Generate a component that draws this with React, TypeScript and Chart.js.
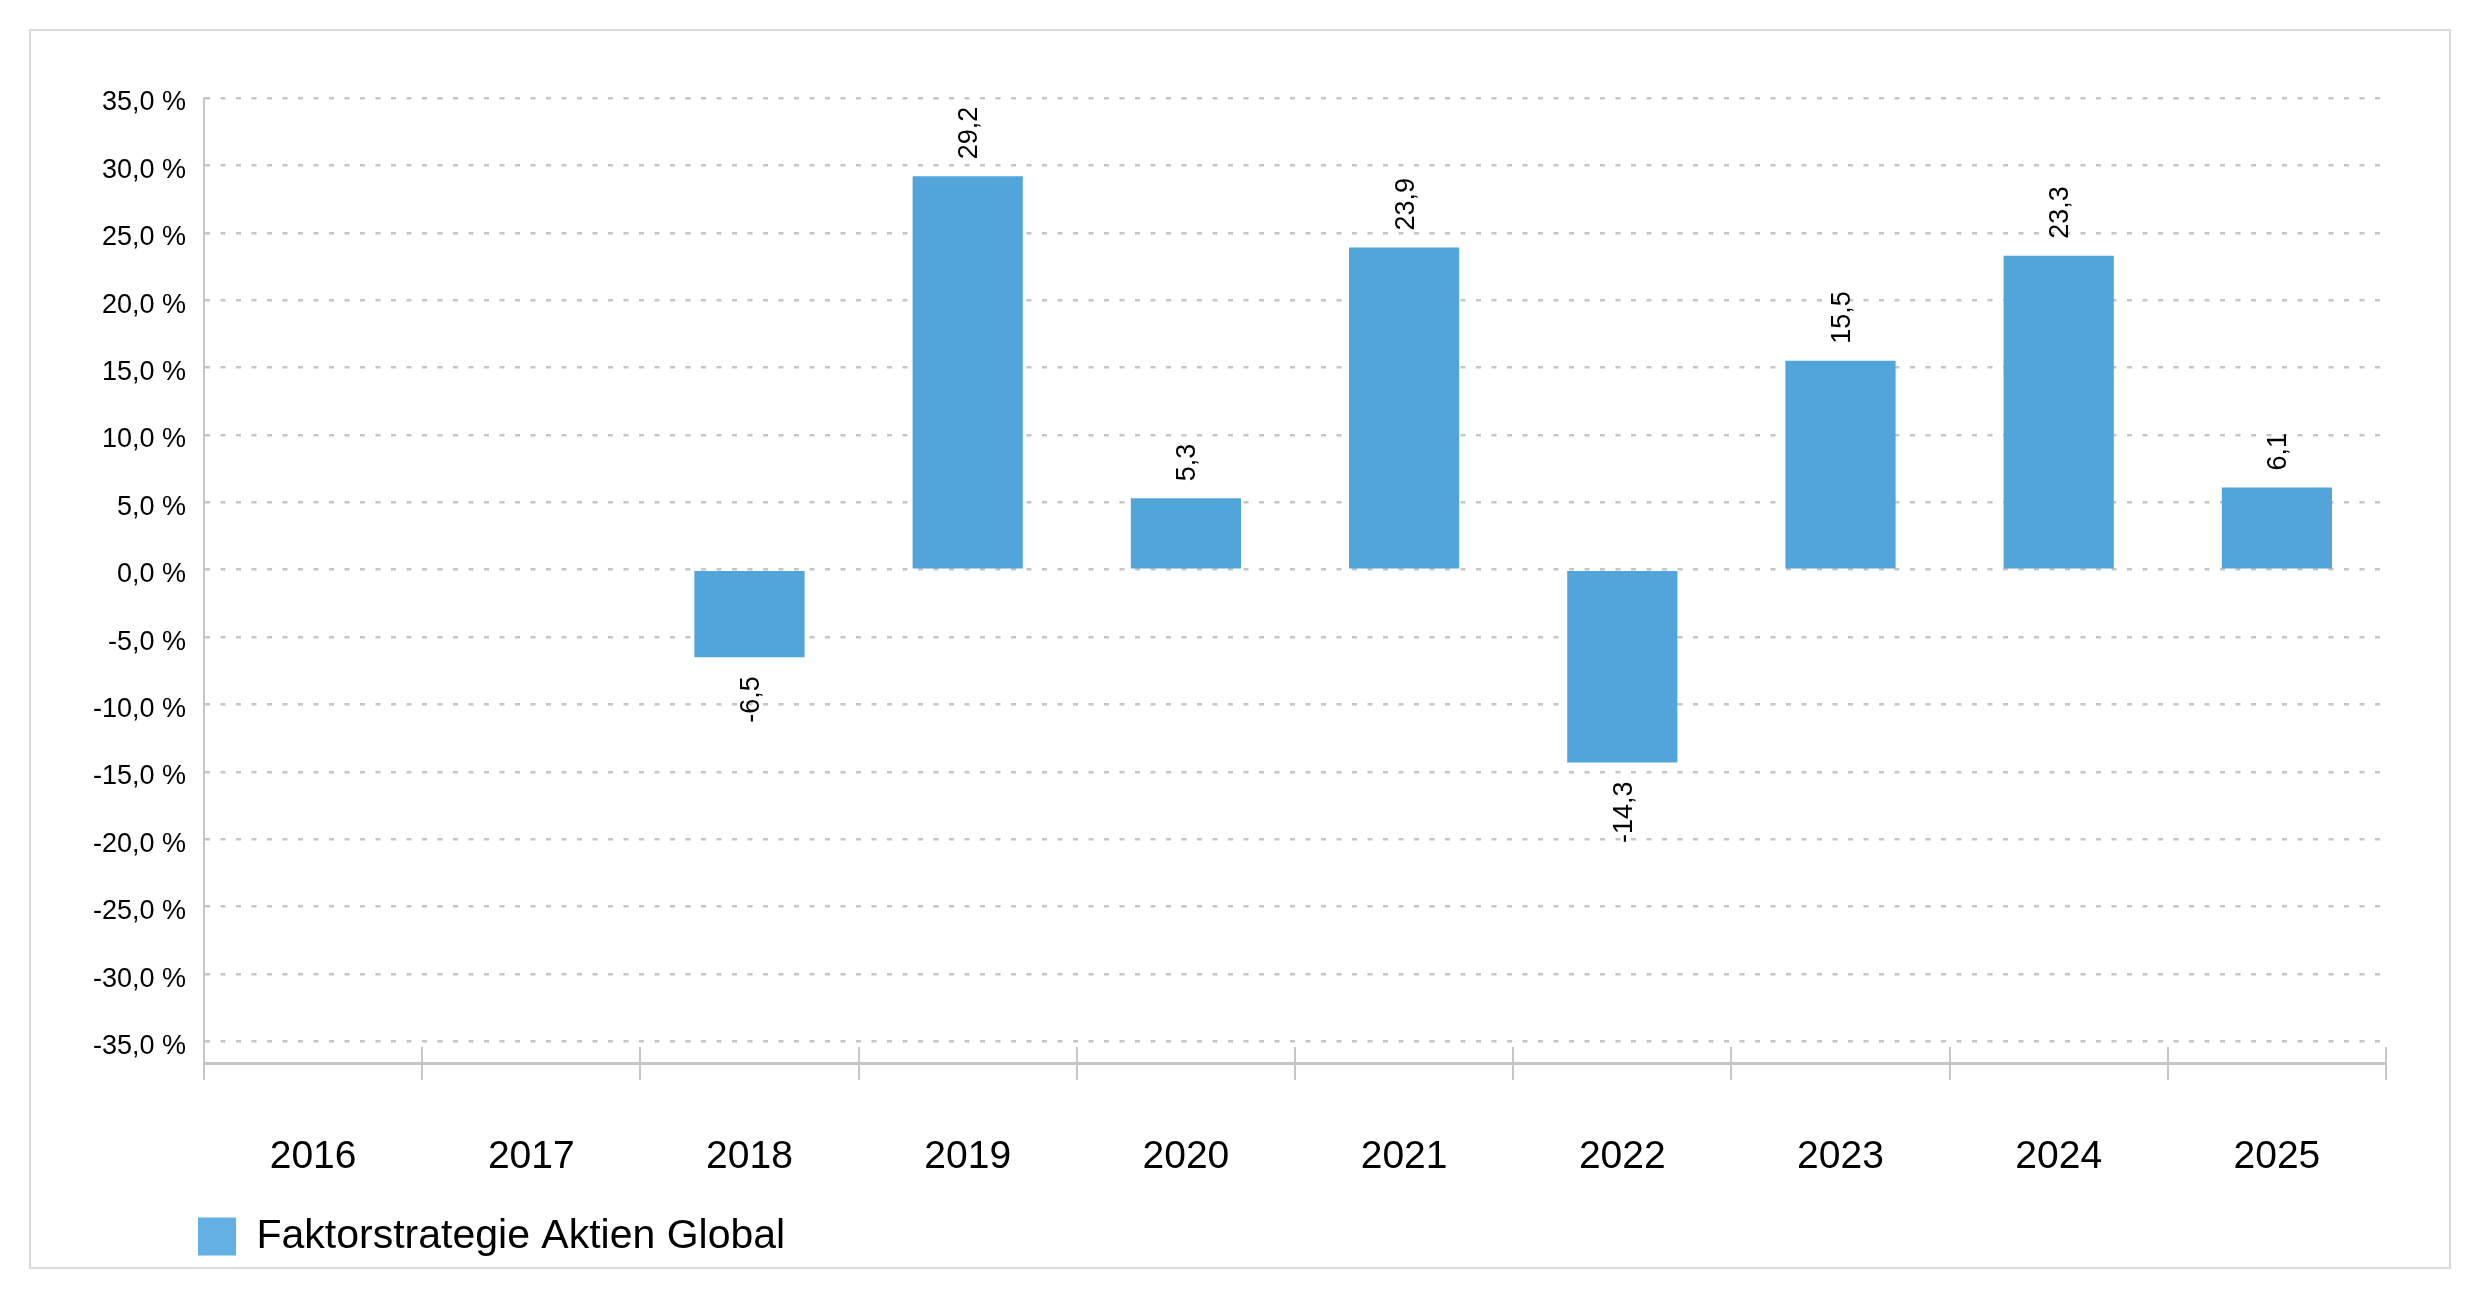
import React, { useEffect, useRef } from "react";
import { Chart, registerables } from "chart.js";

Chart.register(...registerables);

const categories: string[] = ["2016", "2017", "2018", "2019", "2020", "2021", "2022", "2023", "2024", "2025"];
const values: (number | null)[] = [null, null, -6.5, 29.2, 5.3, 23.9, -14.3, 15.5, 23.3, 6.1];
const seriesName = "Faktorstrategie Aktien Global";
const yTicks: number[] = [-35, -30, -25, -20, -15, -10, -5, 0, 5, 10, 15, 20, 25, 30, 35];

const BAR_COLOR = "#52A5DA";
const LEGEND_COLOR = "#63B0E4";
const GRID_COLOR = "#C6C6C6";
const FONT = "'Liberation Sans', Arial, Helvetica, sans-serif";

const fmt = (v: number, d: number) => v.toFixed(d).replace(".", ",");

const valueLabels = {
  id: "valueLabels",
  afterDatasetsDraw(chart: any) {
    const ctx = chart.ctx;
    const meta = chart.getDatasetMeta(0);
    ctx.save();
    ctx.font = `27px ${FONT}`;
    ctx.fillStyle = "#000";
    ctx.textBaseline = "middle";
    meta.data.forEach((bar: any, i: number) => {
      const v = values[i];
      if (v === null || v === undefined) return;
      ctx.save();
      if (v >= 0) {
        ctx.translate(bar.x + 2, bar.y - 17);
        ctx.rotate(-Math.PI / 2);
        ctx.textAlign = "left";
      } else {
        ctx.translate(bar.x + 2, bar.y + 19);
        ctx.rotate(-Math.PI / 2);
        ctx.textAlign = "right";
      }
      ctx.fillText(fmt(v, 1), 0, 0);
      ctx.restore();
    });
    ctx.restore();
  },
};

const upperTicks = {
  id: "upperTicks",
  afterDraw(chart: any) {
    const ctx = chart.ctx;
    const x = chart.scales.x;
    const bottom = chart.chartArea.bottom;
    ctx.save();
    ctx.strokeStyle = GRID_COLOR;
    ctx.lineWidth = 2;
    for (let i = 0; i <= categories.length; i++) {
      const px = Math.round(x.getPixelForValue(i - 0.5));
      ctx.beginPath();
      ctx.moveTo(px, bottom - 16);
      ctx.lineTo(px, bottom);
      ctx.stroke();
    }
    ctx.restore();
  },
};

const legendShift = {
  id: "legendShift",
  afterLayout(chart: any) {
    const lg = chart.legend;
    if (lg) {
      lg.left -= 6;
      lg.right -= 6;
    }
  },
};

export default function App() {
  const ref = useRef<HTMLCanvasElement | null>(null);

  useEffect(() => {
    if (!ref.current) return;
    document.body.style.overflow = "hidden";
    Chart.defaults.font.family = FONT;
    const chart = new Chart(ref.current, {
      type: "bar",
      data: {
        labels: categories,
        datasets: [
          {
            label: seriesName,
            data: values as any,
            backgroundColor: BAR_COLOR,
            borderWidth: 0,
            categoryPercentage: 1,
            barPercentage: 0.505,
          },
        ],
      },
      options: {
        animation: false,
        responsive: false,
        devicePixelRatio: 1,
        layout: { padding: { left: 30, right: 94, top: 98, bottom: 32 } },
        plugins: {
          tooltip: { enabled: false },
          legend: {
            position: "bottom",
            align: "start",
            fullSize: false,
            labels: {
              boxWidth: 38,
              boxHeight: 38,
              padding: 0,
              color: "#000",
              font: { size: 41, family: FONT },
              generateLabels: () => [
                {
                  text: seriesName,
                  fillStyle: LEGEND_COLOR,
                  strokeStyle: LEGEND_COLOR,
                  lineWidth: 0,
                  hidden: false,
                  datasetIndex: 0,
                } as any,
              ],
            },
          },
        },
        scales: {
          x: {
            offset: true,
            grid: {
              display: true,
              offset: true,
              drawOnChartArea: false,
              drawTicks: true,
              tickLength: 17,
              color: GRID_COLOR,
              lineWidth: 2,
            },
            border: { display: true, color: GRID_COLOR, width: 3 },
            ticks: {
              color: "#000",
              font: { size: 39, family: FONT },
              padding: 54,
              maxRotation: 0,
              autoSkip: false,
            },
            afterFit: (scale: any) => {
              scale.height = 153;
            },
          },
          y: {
            min: -36.6,
            max: 35,
            afterBuildTicks: (scale: any) => {
              scale.ticks = yTicks.map((v) => ({ value: v }));
            },
            afterFit: (scale: any) => {
              scale.width = 174;
            },
            grid: {
              color: GRID_COLOR,
              lineWidth: 2.5,
              drawTicks: false,
            },
            border: { display: true, color: GRID_COLOR, width: 2, dash: [5, 10.5] },
            ticks: {
              color: "#000",
              font: { size: 27, family: FONT },
              padding: 18,
              labelOffset: 5,
              callback: (v: any) => `${fmt(Number(v), 1)} %`,
            },
          },
        },
      },
      plugins: [valueLabels, upperTicks, legendShift],
    });
    return () => chart.destroy();
  }, []);

  return (
    <div>
      <div
        style={{
          position: "absolute",
          left: 0,
          top: 0,
          width: 2480,
          height: 1299,
          background: "#fff",
        }}
      >
        <canvas ref={ref} width={2480} height={1299} style={{ width: 2480, height: 1299, display: "block" }} />
      </div>
      <div
        style={{
          position: "absolute",
          left: 29,
          top: 29,
          width: 2422,
          height: 1240,
          boxSizing: "border-box",
          border: "2px solid #DADADA",
          pointerEvents: "none",
        }}
      />
    </div>
  );
}
